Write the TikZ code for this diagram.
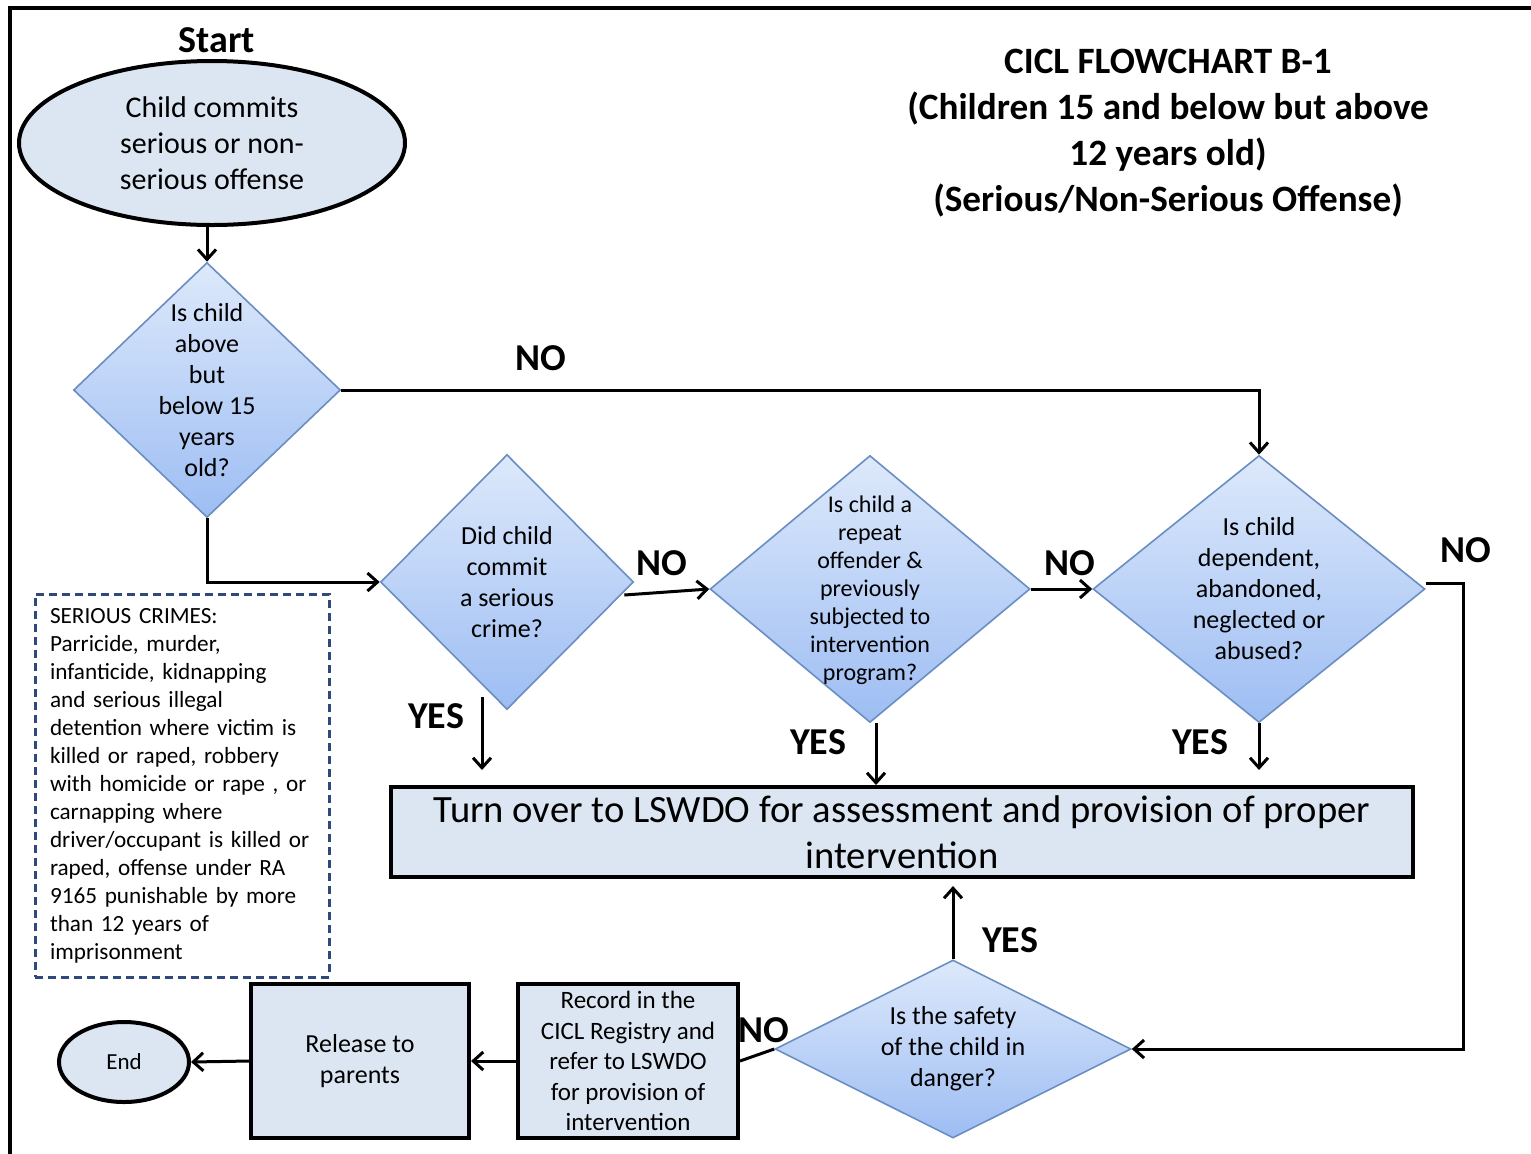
\documentclass[tikz,border=0pt]{standalone}
\usepackage{fontspec}
\setmainfont{Carlito}
\usetikzlibrary{shapes.geometric,arrows.meta,calc}
\definecolor{boxfill}{HTML}{DCE6F2}
\definecolor{diatop}{HTML}{DDE9FB}
\definecolor{diabot}{HTML}{9DBDF3}
\definecolor{diaborder}{HTML}{6A8DC2}
\definecolor{dashcol}{HTML}{2F4A78}
\begin{document}
\begin{tikzpicture}[x=0.5pt,y=-0.5pt,
  conn/.style={line width=1.5pt},
  arr/.style={conn,-{Straight Barb[length=5pt,width=9pt]}},
  dia/.style={diamond,draw=diaborder,line width=0.8pt,top color=diatop,bottom color=diabot,inner sep=0pt},
  diatext/.style={align=center,font=\fontsize{13}{15.5}\selectfont},
  box/.style={rectangle,draw=black,line width=2pt,fill=boxfill,inner sep=0pt,align=center},
  ell/.style={ellipse,draw=black,line width=2pt,fill=boxfill,inner sep=0pt,align=center},
  lbl/.style={font=\fontsize{19}{23}\selectfont\bfseries},
]
\useasboundingbox (0,0) rectangle (1531,1153);
% frame
\draw[line width=2pt] (10,1160) -- (10,8) -- (1535,8);

% title
\node[align=center,font=\fontsize{18.6}{23}\selectfont\bfseries] (title) at (1168,133)
  {CICL FLOWCHART B-1\\(Children 15 and below but above\\12 years old)\\(Serious/Non-Serious Offense)};

% start
\node[lbl] (startlbl) at (217,40) {Start};
\node[ell,minimum width=193pt,minimum height=82pt,font=\fontsize{15}{18}\selectfont] (start) at (212,143)
  {Child commits\\serious or non-\\serious offense};

% diamonds
\node[dia,minimum width=133.5pt,minimum height=127.5pt] (d1) at (207,390) {};
\node[diatext] at (d1) {Is child\\above\\but\\below 15\\years\\old?};

\node[dia,minimum width=126.5pt,minimum height=127.5pt] (d2) at (507,582) {};
\node[diatext] at (d2) {Did child\\commit\\a serious\\crime?};

\node[dia,minimum width=160pt,minimum height=133.5pt] (d3) at (870,589) {};
\node[diatext,font=\fontsize{12}{14}\selectfont] at (870,590) {Is child a\\repeat\\offender \&\\previously\\subjected to\\intervention\\program?};

\node[dia,minimum width=166pt,minimum height=133.5pt] (d4) at (1259,589) {};
\node[diatext] at (d4) {Is child\\dependent,\\abandoned,\\neglected or\\abused?};

\node[dia,minimum width=178pt,minimum height=89pt] (d5) at (953,1049) {};
\node[diatext] at (953,1049) {Is the safety\\of the child in\\danger?};

% boxes
\node[box,minimum width=511pt,minimum height=45pt,font=\fontsize{19.3}{23}\selectfont] (big) at (902,832)
  {Turn over to LSWDO for assessment and provision of proper\\intervention};
\node[box,minimum width=110pt,minimum height=77pt,font=\fontsize{12.5}{15.3}\selectfont] (rec) at (628,1061)
  {Record in the\\CICL Registry and\\refer to LSWDO\\for provision of\\intervention};
\node[box,minimum width=109pt,minimum height=77pt,font=\fontsize{13}{15.5}\selectfont] (rel) at (360,1061)
  {Release to\\parents};
\node[ell,minimum width=65pt,minimum height=40pt,font=\fontsize{11.5}{14}\selectfont] (endn) at (124,1062) {End};

% serious crimes note
\node[draw=dashcol,line width=1.5pt,dash pattern=on 4pt off 2.5pt,minimum width=147pt,minimum height=191.5pt,
  inner xsep=7.5pt,inner ysep=0pt,text width=132pt,align=left,font=\fontsize{11.6}{14}\selectfont] (note) at (182,785.5)
  {SERIOUS CRIMES:\\Parricide, murder,\\infanticide, kidnapping\\and serious illegal\\detention where victim is\\killed or raped, robbery\\with homicide or rape , or\\carnapping where\\driver/occupant is killed or\\raped, offense under RA\\9165 punishable by more\\than 12 years of\\imprisonment};

% connectors
\draw[arr] (start.south -| d1.north) -- (d1.north);
\draw[arr] (d1.east) -- (d1.east -| d4.north) -- (d4.north);
\draw[arr] (d1.south) -- (d1.south |- d2.west) -- (d2.west);
\draw[arr] ([xshift=-5pt,yshift=-6.5pt]d2.east) -- (d3.west);
\draw[arr] (d3.east) -- (d4.west);
\draw[arr] ([yshift=3pt]d4.east) -- ++(38,0) coordinate (nr) |- (d5.east);
\draw[arr,shorten >=7.5pt] ([xshift=-12.5pt,yshift=6.5pt]d2.south) -- ([xshift=-12.5pt]d2.south |- big.north);
\draw[arr] ([xshift=3pt]d3.south) -- ([xshift=3pt]d3.south |- big.north);
\draw[arr,shorten >=7.5pt] (d4.south) -- (d4.south |- big.north);
\draw[arr,shorten >=3.5pt] (d5.north) -- (d5.north |- big.south);
\draw[conn] (d5.west) -- (rec.east);
\draw[arr] (rec.west) -- (rel.east);
\draw[arr] (rel.west) -- (endn.east);

% labels
\node[lbl] (l1) at (541,358) {NO};
\node[lbl] (l2) at (662,563) {NO};
\node[lbl] (l3) at (1070,563) {NO};
\node[lbl] (l4) at (1466,550) {NO};
\node[lbl] (l5) at (764,1030) {NO};
\node[lbl] (y1) at (436,716) {YES};
\node[lbl] (y2) at (818,742) {YES};
\node[lbl] (y3) at (1200,742) {YES};
\node[lbl] (y4) at (1010,940) {YES};
\end{tikzpicture}
\end{document}
